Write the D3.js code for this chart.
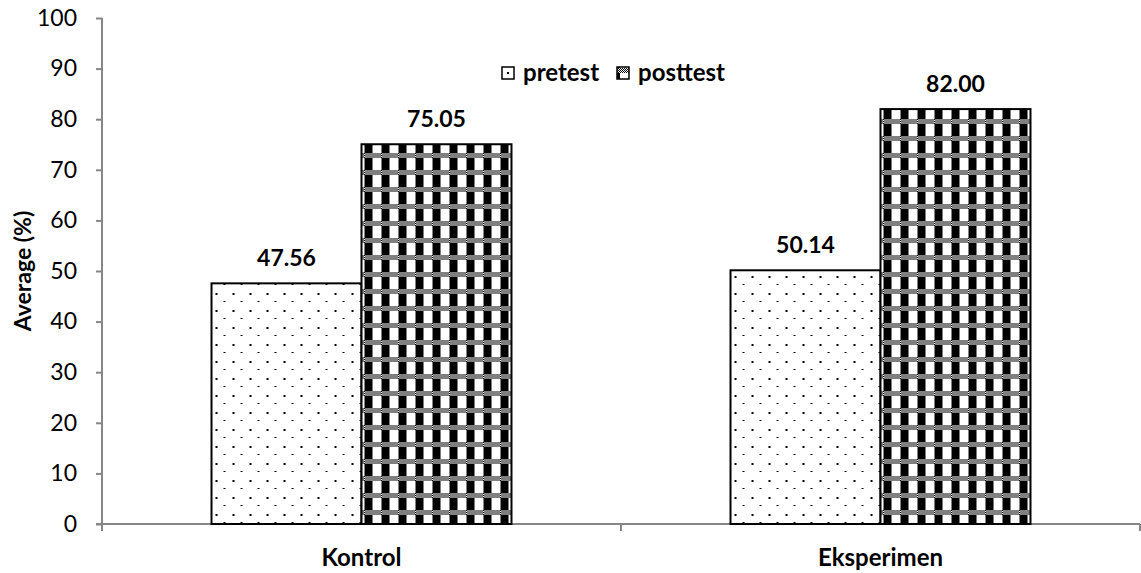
<!DOCTYPE html>
<html>
<head>
<meta charset="utf-8">
<script src="https://cdn.jsdelivr.net/npm/d3@7"></script>
<style>
  html, body { margin: 0; padding: 0; background: #fff; }
  svg { display: block; font-family: Lato, "Open Sans", sans-serif; }
</style>
</head>
<body>
<svg id="chart" width="1141" height="573"></svg>
<script>
const categories = ["Kontrol", "Eksperimen"];
const seriesNames = ["pretest", "posttest"];
const pretestValues = [47.56, 50.14];
const posttestValues = [75.05, 82.00];
const yTicks = [0, 10, 20, 30, 40, 50, 60, 70, 80, 90, 100];
const yTitle = "Average (%)";

const svg = d3.select("#chart");
const plot = { left: 102, right: 1140, top: 18, bottom: 524 };
const axisColor = "#868686";

const x0 = d3.scaleBand().domain(categories).range([plot.left, plot.right])
  .paddingInner(0.422).paddingOuter(0.211);
const x1 = d3.scaleBand().domain(seriesNames).range([0, x0.bandwidth()]);
const y = d3.scaleLinear().domain([0, 100]).range([plot.bottom, plot.top]);

// Patterns
const defs = svg.append("defs");
const dots = defs.append("pattern").attr("id", "dots")
  .attr("patternUnits", "userSpaceOnUse").attr("width", 17).attr("height", 17);
dots.append("rect").attr("width", 17).attr("height", 17).attr("fill", "#fff");
dots.append("rect").attr("x", 4).attr("y", 4).attr("width", 2).attr("height", 2).attr("fill", "#000");
dots.append("rect").attr("x", 12).attr("y", 12).attr("width", 2).attr("height", 1).attr("fill", "#000");

const chk = defs.append("pattern").attr("id", "check")
  .attr("patternUnits", "userSpaceOnUse").attr("width", 17).attr("height", 17);
chk.append("rect").attr("width", 17).attr("height", 17).attr("fill", "#fff");
chk.append("rect").attr("x", 0).attr("y", 5).attr("width", 8).attr("height", 12).attr("fill", "#000");
for (let r = 0; r < 5; r++) {
  for (let c = 0; c < 17; c++) {
    if ((r + c) % 2 === 0) {
      chk.append("rect").attr("x", c).attr("y", r).attr("width", 1).attr("height", 1).attr("fill", "#000");
    }
  }
}
chk.selectAll("rect").attr("shape-rendering", "crispEdges");
dots.selectAll("rect").attr("shape-rendering", "crispEdges");

const fills = { pretest: "url(#dots)", posttest: "url(#check)" };

// Axes
const yAxis = d3.axisLeft(y).tickValues(yTicks).tickSize(6).tickPadding(19);
const gy = svg.append("g").attr("transform", `translate(${plot.left},0)`).call(yAxis);
gy.select(".domain").attr("stroke", axisColor).attr("stroke-width", 2)
  .attr("d", `M0,${plot.top}V${plot.bottom}`);
gy.selectAll(".tick line").attr("stroke", axisColor).attr("stroke-width", 2);
gy.selectAll(".tick text").attr("font-family", "Lato").attr("font-size", 23).attr("fill", "#000");

// X axis line & ticks
svg.append("line").attr("x1", plot.left - 6).attr("x2", plot.right)
  .attr("y1", plot.bottom).attr("y2", plot.bottom)
  .attr("stroke", axisColor).attr("stroke-width", 2);
const step = x0.step();
const boundaries = [plot.left, plot.left + step, plot.left + 2 * step];
svg.selectAll(".xtick").data(boundaries).enter().append("line")
  .attr("x1", d => d).attr("x2", d => d)
  .attr("y1", plot.bottom).attr("y2", plot.bottom + 7)
  .attr("stroke", axisColor).attr("stroke-width", 2);

svg.selectAll(".xlabel").data(categories).enter().append("text")
  .attr("x", d => x0(d) + x0.bandwidth() / 2)
  .attr("y", 566)
  .attr("text-anchor", "middle")
  .attr("font-weight", "bold").attr("font-size", 24)
  .text(d => d);

// Bars
const rows = categories.map((c, i) => ({
  cat: c,
  vals: [{ s: "pretest", v: pretestValues[i] }, { s: "posttest", v: posttestValues[i] }]
}));
const groups = svg.selectAll(".grp").data(rows).enter().append("g")
  .attr("transform", d => `translate(${x0(d.cat)},0)`);
groups.selectAll("rect").data(d => d.vals).enter().append("rect")
  .attr("x", d => x1(d.s))
  .attr("y", d => y(d.v))
  .attr("width", x1.bandwidth())
  .attr("height", d => y(0) - y(d.v))
  .attr("fill", d => fills[d.s])
  .attr("stroke", "#000").attr("stroke-width", 2);
groups.selectAll("text").data(d => d.vals).enter().append("text")
  .attr("x", d => x1(d.s) + x1.bandwidth() / 2)
  .attr("y", d => y(d.v) - 17)
  .attr("text-anchor", "middle")
  .attr("font-weight", "bold").attr("font-size", 23)
  .text(d => d.v.toFixed(2));

// Y title
svg.append("text")
  .attr("transform", `translate(31,${(plot.top + plot.bottom) / 2}) rotate(-90)`)
  .attr("text-anchor", "middle")
  .attr("font-weight", "bold").attr("font-size", 23)
  .text(yTitle);

// Legend
const legendPos = [{ s: "pretest", bx: 502, tx: 523 }, { s: "posttest", bx: 617, tx: 638 }];
const lg = svg.append("g");
lg.selectAll("rect").data(legendPos).enter().append("rect")
  .attr("x", d => d.bx).attr("y", 67).attr("width", 12).attr("height", 12)
  .attr("fill", d => d.s === "pretest" ? "#fff" : fills[d.s])
  .attr("stroke", "#000").attr("stroke-width", 1.5);
lg.append("rect").attr("x", 507).attr("y", 72).attr("width", 2).attr("height", 2).attr("fill", "#000");
lg.selectAll("text").data(legendPos).enter().append("text")
  .attr("x", d => d.tx).attr("y", 81)
  .attr("font-weight", "bold").attr("font-size", 24)
  .text(d => d.s);
</script>
</body>
</html>
